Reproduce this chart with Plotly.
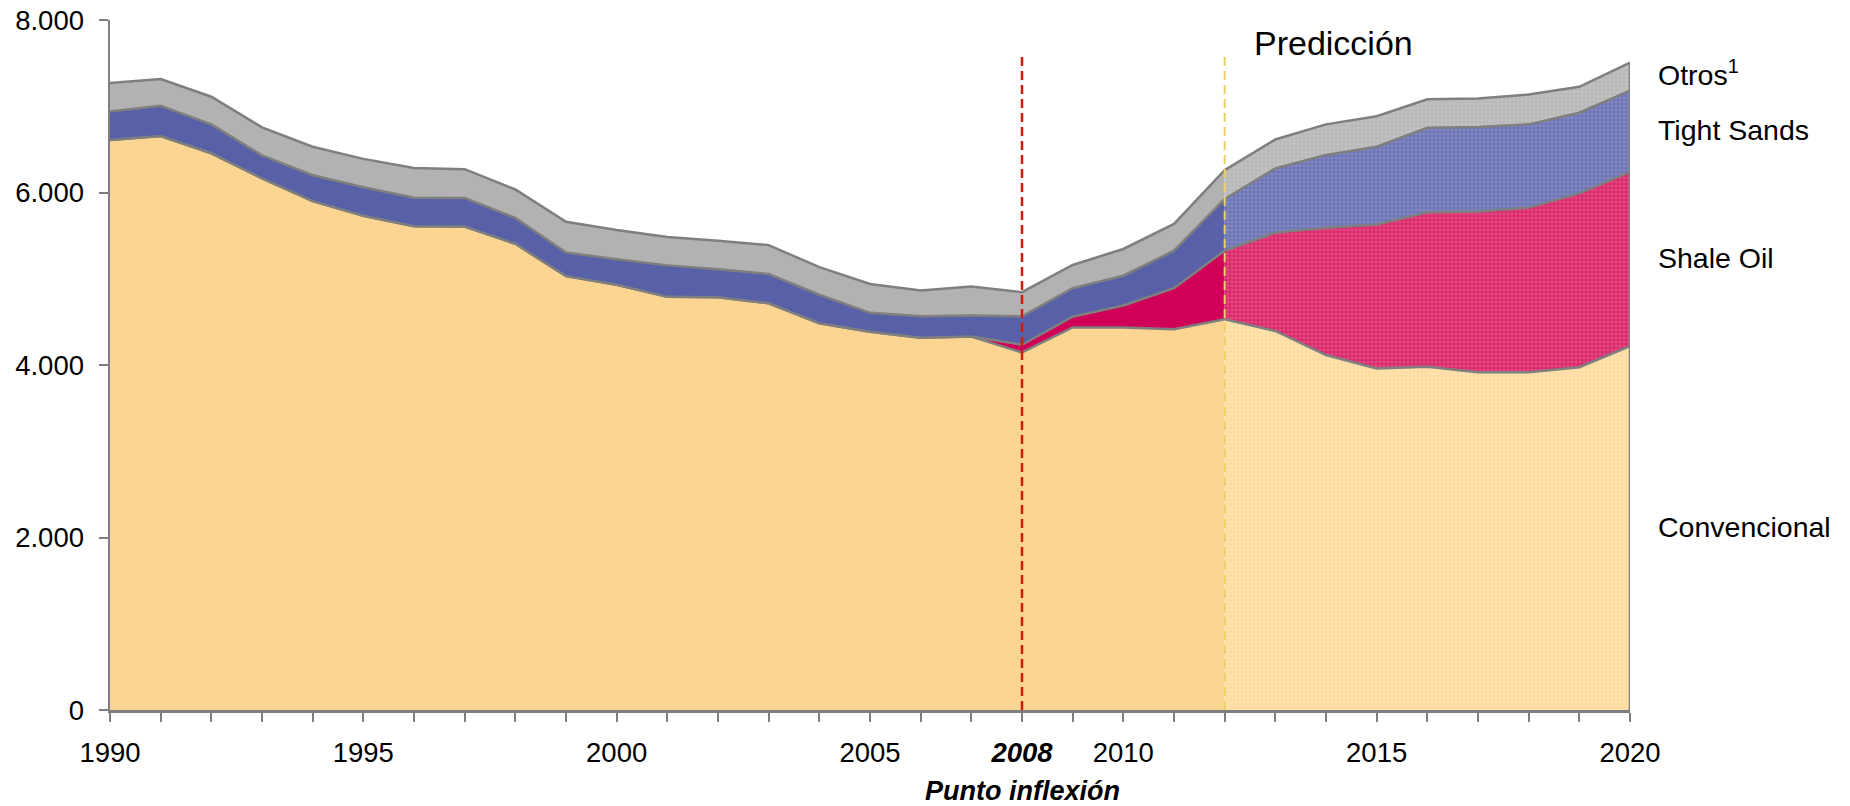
import plotly.graph_objects as go

# ---------------- data ----------------
years = list(range(1990, 2021))
convencional = [6610, 6655, 6455, 6165, 5900, 5730, 5610, 5605, 5405, 5030,
                4930, 4790, 4785, 4715, 4485, 4385, 4315, 4330, 4145, 4435,
                4435, 4415, 4530, 4395, 4115, 3960, 3980, 3915, 3915, 3975, 4220]
shale_oil = [0, 0, 0, 0, 0, 0, 0, 0, 0, 0,
             0, 0, 0, 0, 0, 0, 0, 0, 90, 125,
             255, 475, 795, 1140, 1475, 1670, 1790, 1865, 1910, 2015, 2020]
tight_sands = [330, 350, 335, 265, 300, 330, 330, 330, 300, 275,
               295, 365, 325, 340, 330, 220, 250, 245, 330, 330,
               345, 435, 600, 745, 845, 900, 980, 980, 965, 935, 940]
otros = [330, 310, 320, 325, 330, 330, 345, 335, 330, 355,
         340, 330, 330, 335, 320, 335, 300, 335, 280, 270,
         310, 310, 335, 335, 355, 355, 330, 330, 345, 300, 325]

series_names = ["Convencional", "Shale Oil", "Tight Sands", "Otros"]
series_values = [convencional, shale_oil, tight_sands, otros]
label_texts = ["Convencional", "Shale Oil", "Tight Sands", "Otros<sup>1</sup>"]

x_tick_vals = [1990, 1995, 2000, 2005, 2008, 2010, 2015, 2020]
x_tick_text = ["1990", "1995", "2000", "2005", "<b><i>2008</i></b>", "2010", "2015", "2020"]

inflection_year = 2008
forecast_start = 2012

# ---------------- style ----------------
FONT = "Arial, Liberation Sans, sans-serif"
LINE_GRAY = "#7f7f7f"
hist_colors = ["#FDD592", "#D00058", "#5860A8", "#B2B2B2"]
pred_colors = ["#FEDA9C", "#D9246A", "#6A72B4", "#C2C2C2"]
pred_fg = ["#FFEFCF", "#F07FA8", "#A4AAD8", "#A8A8A8"]

fig = go.Figure()

split = years.index(forecast_start)
segments = [
    ("hist", slice(0, split + 1), hist_colors, None),
    ("pred", slice(split, len(years)), pred_colors, pred_fg),
]
for group, sl, colors, fgs in segments:
    for i, (name, vals) in enumerate(zip(series_names, series_values)):
        kw = {}
        if fgs is not None:
            kw["fillpattern"] = dict(shape="+", size=4, solidity=0.35,
                                     bgcolor=colors[i], fgcolor=fgs[i],
                                     fgopacity=0.6)
        fig.add_trace(go.Scatter(
            x=years[sl], y=vals[sl], name=name, stackgroup=group,
            mode="lines", line=dict(color=LINE_GRAY, width=2.5),
            fillcolor=colors[i], hoverinfo="skip", showlegend=False, **kw))

# right edge of stacked area
total_last = sum(v[-1] for v in series_values)
fig.add_trace(go.Scatter(x=[years[-1], years[-1]], y=[0, total_last], mode="lines",
                         line=dict(color=LINE_GRAY, width=2.5), hoverinfo="skip",
                         showlegend=False))

# vertical dashed markers
fig.add_shape(type="line", xref="x", yref="y", x0=inflection_year, x1=inflection_year,
              y0=0, y1=7570, line=dict(color="#C81E0A", width=2.5, dash="9px,5px"),
              layer="above")
fig.add_shape(type="line", xref="x", yref="y", x0=forecast_start, x1=forecast_start,
              y0=0, y1=7570, line=dict(color="#EDCF68", width=2, dash="9px,5px"),
              layer="above")

# series labels on the right
label_y = [2120, 5240, 6725, 7390]
for txt, ly in zip(label_texts, label_y):
    fig.add_annotation(x=1.017, xref="paper", y=ly, yref="y", text=txt,
                       showarrow=False, xanchor="left", yanchor="middle",
                       font=dict(family=FONT, size=28.5, color="#000000"))

fig.add_annotation(x=2014.15, xref="x", y=7735, yref="y", text="Predicción",
                   showarrow=False, xanchor="center", yanchor="middle",
                   font=dict(family=FONT, size=34, color="#000000"))
fig.add_annotation(x=inflection_year, xref="x", y=-0.118, yref="paper",
                   text="<b><i>Punto inflexión</i></b>", showarrow=False,
                   xanchor="center", yanchor="middle",
                   font=dict(family=FONT, size=27, color="#000000"))

fig.update_layout(
    width=1850, height=806,
    margin=dict(l=110, r=220, t=20, b=96, autoexpand=False),
    paper_bgcolor="white", plot_bgcolor="white",
    separators=",.",
    font=dict(family=FONT, size=27.5, color="#000000"),
    showlegend=False,
)
fig.update_xaxes(
    range=[1990, 2020], tickvals=x_tick_vals, ticktext=x_tick_text,
    ticks="outside", ticklen=9, tickwidth=2, tickcolor=LINE_GRAY,
    minor=dict(dtick=1, ticks="outside", ticklen=9, tickwidth=2, tickcolor=LINE_GRAY),
    showline=True, linecolor=LINE_GRAY, linewidth=2.5,
    showgrid=False, zeroline=False, automargin=False,
    ticklabelstandoff=7,
    tickfont=dict(family=FONT, size=27.5, color="#000000"),
)
fig.update_yaxes(
    range=[0, 8000], dtick=2000, tickformat=",d",
    ticks="outside", ticklen=9, tickwidth=2, tickcolor=LINE_GRAY,
    showline=True, linecolor=LINE_GRAY, linewidth=2.5,
    showgrid=False, zeroline=False, automargin=False,
    ticklabelstandoff=9,
    tickfont=dict(family=FONT, size=27.5, color="#000000"),
)

fig.write_html("out.html",
               config={"displayModeBar": False, "staticPlot": True},
               post_script="document.body.style.margin='0';document.body.style.overflow='hidden';")
